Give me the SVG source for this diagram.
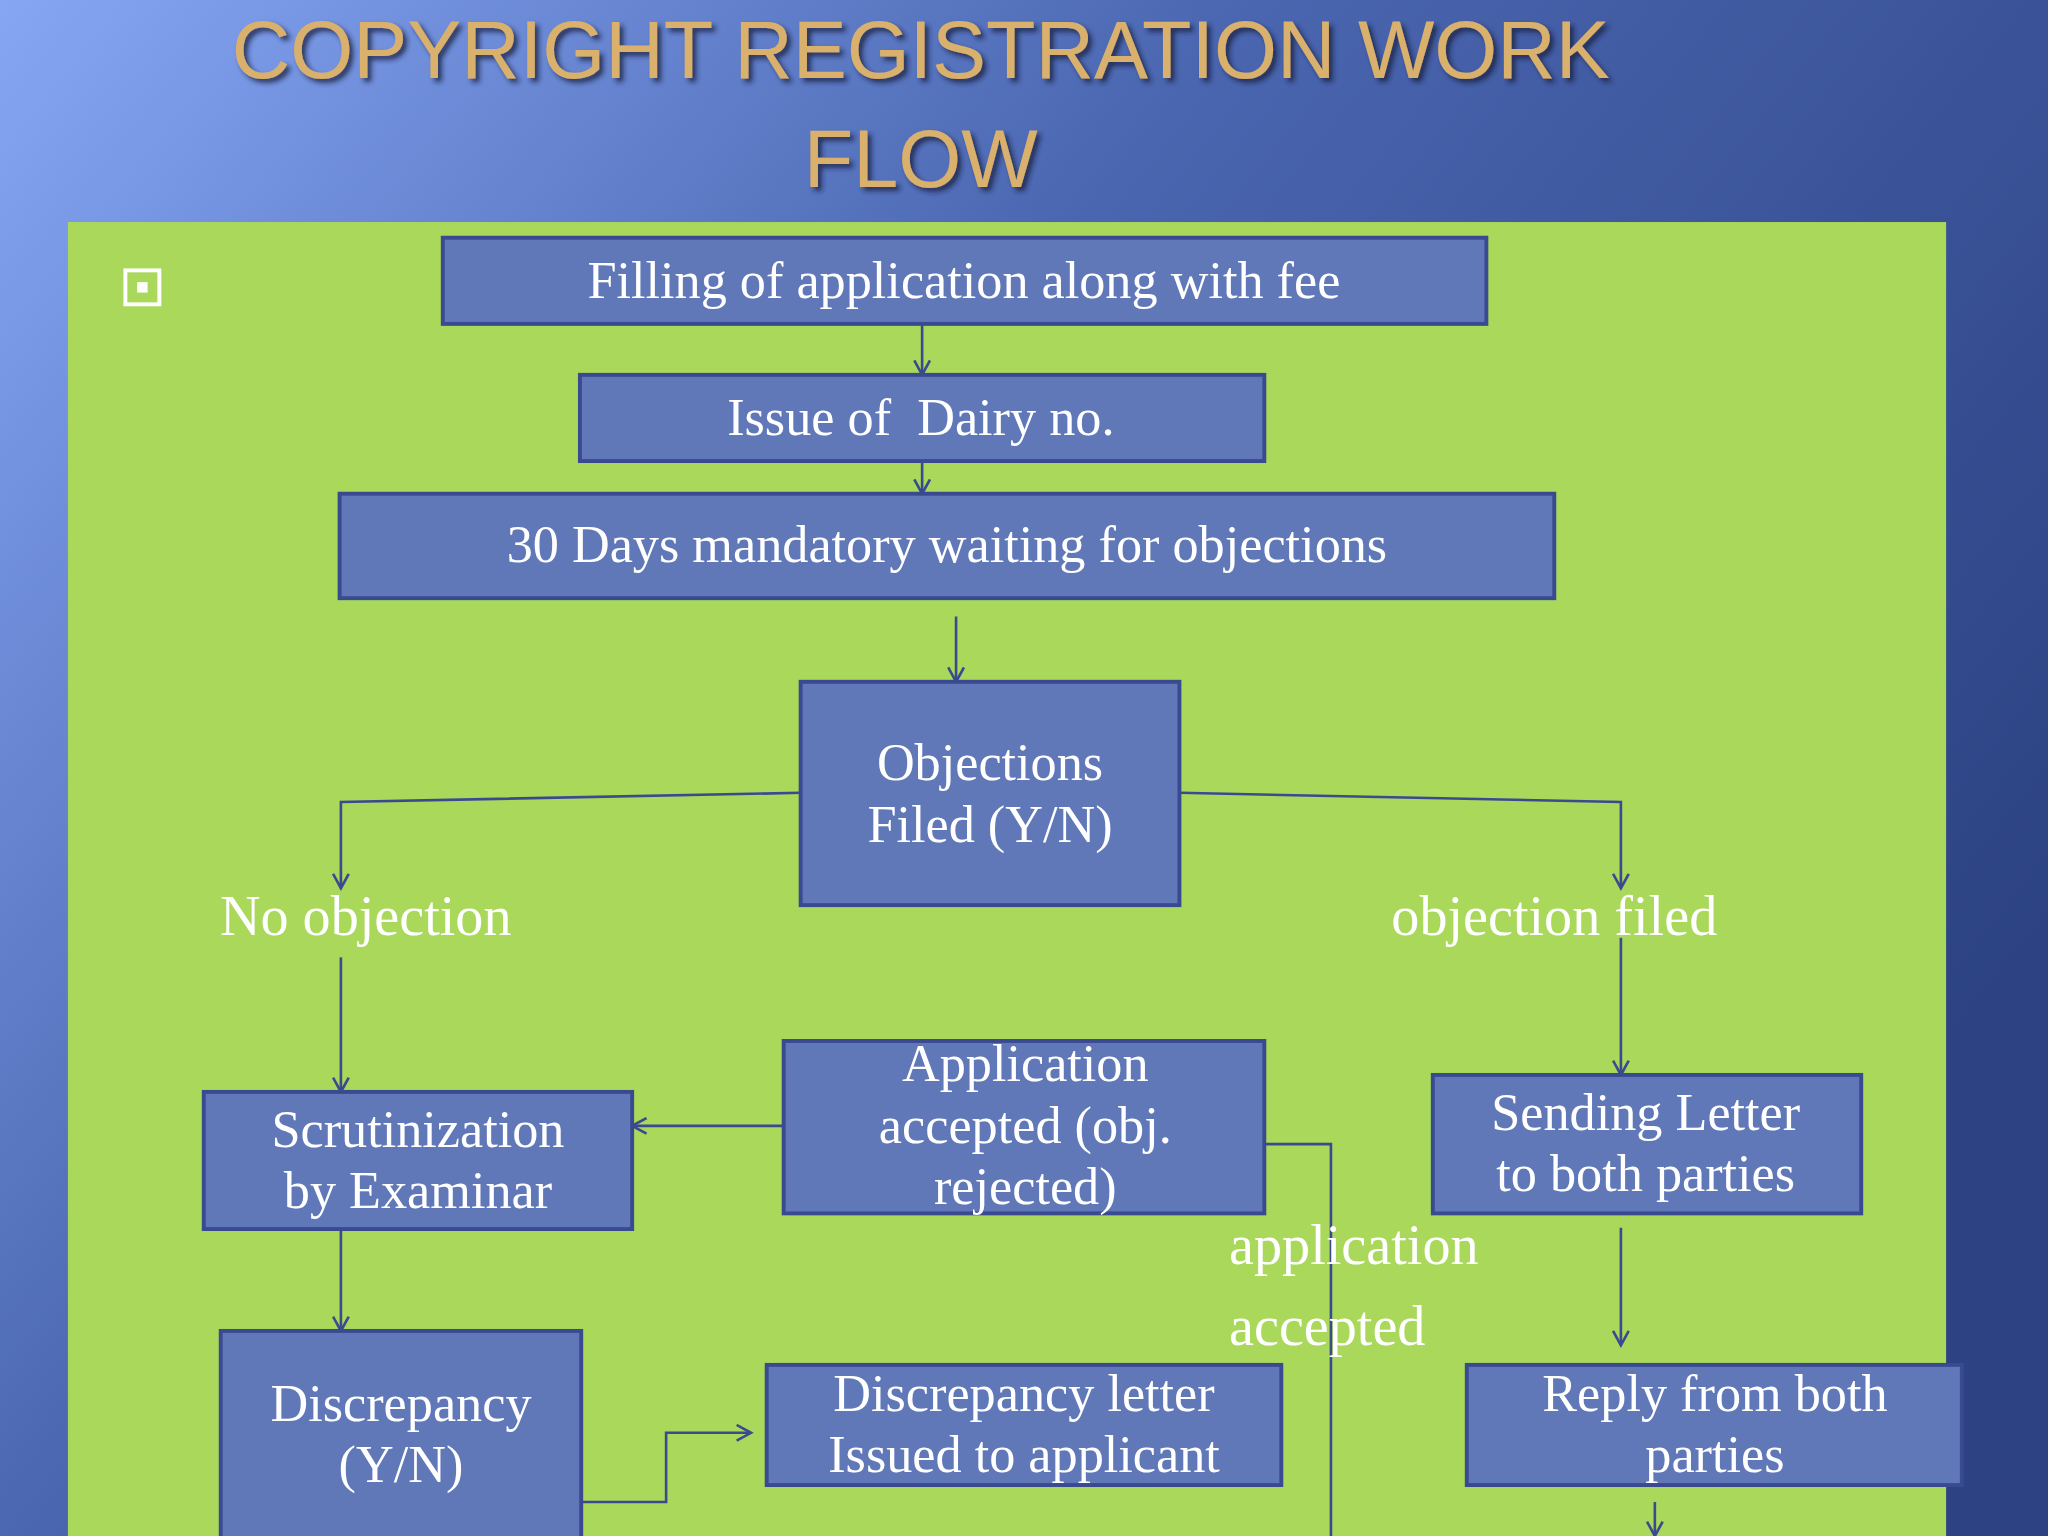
<svg xmlns="http://www.w3.org/2000/svg" width="2048" height="1536" viewBox="0 0 2048 1536">
<defs>
<linearGradient id="bg" x1="0" y1="0" x2="1" y2="0.6">
<stop offset="0" stop-color="#86a6f4"/><stop offset="0.45" stop-color="#4a66b0"/><stop offset="1" stop-color="#2c4282"/>
</linearGradient>
<filter id="sh"><feDropShadow dx="3" dy="3" stdDeviation="2" flood-color="#1a2240" flood-opacity="0.8"/></filter>
<marker id="ar" markerWidth="14" markerHeight="14" refX="12" refY="7" orient="auto" markerUnits="userSpaceOnUse"><path d="M1,1 L12,7 L1,13" fill="none" stroke="#3a4a90" stroke-width="2"/></marker>
<style>
.b{fill:#6078b8;stroke:#3a4a90;stroke-width:3}
.t{font-family:"Liberation Serif",serif;font-size:40px;fill:#fff;text-anchor:middle}
.c{fill:none;stroke:#3a4a90;stroke-width:2;marker-end:url(#ar)}
.n{fill:none;stroke:#3a4a90;stroke-width:2}
</style>
</defs>
<g transform="scale(1.30612)">
<rect width="1568" height="1176" fill="url(#bg)"/>
<rect x="52" y="170" width="1438" height="1006" fill="#a9d85b"/>
<g font-family="Liberation Sans,sans-serif" font-size="62" fill="#d9b06c" text-anchor="middle" filter="url(#sh)">
<text x="705" y="60">COPYRIGHT REGISTRATION WORK</text>
<text x="705" y="143">FLOW</text>
</g>
<rect x="96" y="207" width="26" height="26" fill="none" stroke="#fff" stroke-width="3"/><rect x="105" y="216" width="8" height="8" fill="#fff"/>
<g id="connectors">
<path class="c" d="M706,248V287"/>
<path class="c" d="M706,353V378"/>
<path class="c" d="M732,472V522"/>
<path class="c" d="M613,607L261,614V680"/>
<path class="c" d="M903,607L1241,614V680"/>
<path class="c" d="M261,733V836"/>
<path class="c" d="M600,862H484"/>
<path class="c" d="M261,941V1019"/>
<path class="c" d="M445,1150H510V1097H575"/>
<path class="c" d="M1241,718V823"/>
<path class="c" d="M1241,940V1030"/>
<path class="c" d="M1019,1176V876H955"/>
<path class="c" d="M1267,1150V1176"/>
</g>
<g id="n1"><rect class="b" x="339" y="182" width="799" height="66"/><text class="t" x="738" y="228">Filling of application along with fee</text></g>
<g id="n2"><rect class="b" x="444" y="287" width="524" height="66"/><text class="t" x="705" y="333" xml:space="preserve">Issue of  Dairy no.</text></g>
<g id="n3"><rect class="b" x="260" y="378" width="930" height="80"/><text class="t" x="725" y="430">30 Days mandatory waiting for objections</text></g>
<g id="n4"><rect class="b" x="613" y="522" width="290" height="171"/><text class="t" x="758" y="597">Objections</text><text class="t" x="758" y="645">Filed (Y/N)</text></g>
<g id="n5"><rect class="b" x="156" y="836" width="328" height="105"/><text class="t" x="320" y="878">Scrutinization</text><text class="t" x="320" y="925">by Examinar</text></g>
<g id="n6"><rect class="b" x="600" y="797" width="368" height="132"/><text class="t" x="785" y="828">Application</text><text class="t" x="785" y="875">accepted (obj.</text><text class="t" x="785" y="922">rejected)</text></g>
<g id="n7"><rect class="b" x="1097" y="823" width="328" height="106"/><text class="t" x="1260" y="865">Sending Letter</text><text class="t" x="1260" y="912">to both parties</text></g>
<g id="n8"><rect class="b" x="169" y="1019" width="276" height="170"/><text class="t" x="307" y="1088">Discrepancy</text><text class="t" x="307" y="1135">(Y/N)</text></g>
<g id="n9"><rect class="b" x="587" y="1045" width="394" height="92"/><text class="t" x="784" y="1080">Discrepancy letter</text><text class="t" x="784" y="1127">Issued to applicant</text></g>
<g id="n10"><rect class="b" x="1123" y="1045" width="379" height="92"/><text class="t" x="1313" y="1080">Reply from both</text><text class="t" x="1313" y="1127">parties</text></g>
<g class="t" style="font-size:43px">
<text x="280" y="716">No objection</text>
<text x="1190" y="716">objection filed</text>
<text x="941" y="968" text-anchor="start" style="text-anchor:start">application</text>
<text x="941" y="1030" style="text-anchor:start">accepted</text>
</g>
</g>
</svg>
